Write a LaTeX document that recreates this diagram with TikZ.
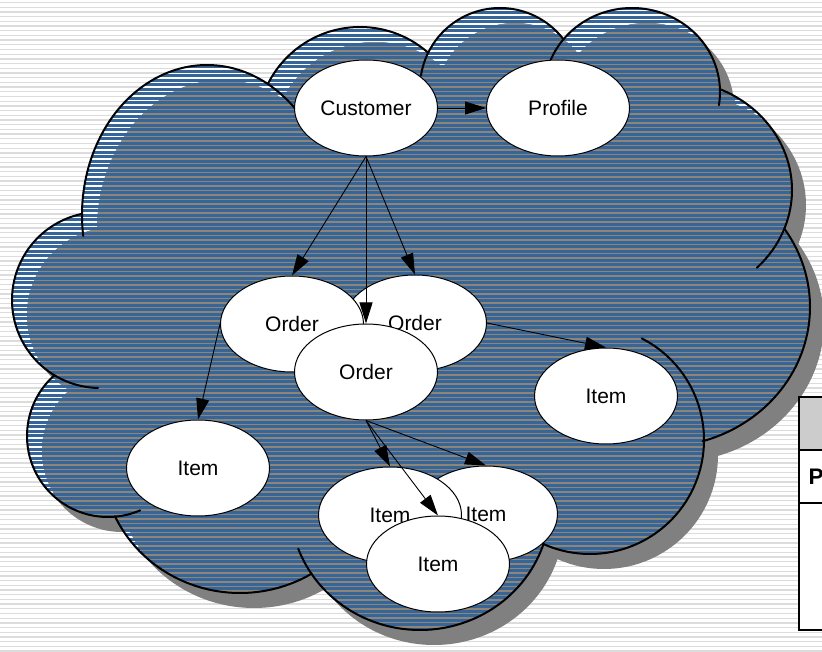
\documentclass[tikz,border=0pt]{standalone}
\usepackage{fontspec}
\setmainfont{Liberation Sans}
\usetikzlibrary{arrows.meta,shapes.geometric}

\definecolor{cloudblue}{HTML}{36659A}
\definecolor{cloudline}{HTML}{8F8576}
\definecolor{shadowgray}{HTML}{808080}
\definecolor{paperline}{HTML}{DCDCDC}
\definecolor{headgray}{HTML}{CCCCCC}

\tikzset{
  % the filled body of the cloud: its lobes plus two inner fillers
  cloudunion/.style={insert path={
    (207,215) ellipse [x radius=125pt, y radius=150pt]
    (360,130) circle [radius=103pt]
    (500,88)  circle [radius=80pt]
    (632,92)  ellipse [x radius=88pt, y radius=84pt]
    (672,190) ellipse [x radius=120pt, y radius=110pt]
    (660,307) ellipse [x radius=150pt, y radius=140pt]
    (590,440) circle [radius=114pt]
    (420,505) ellipse [x radius=130pt, y radius=125pt]
    (240,460) ellipse [x radius=138pt, y radius=133pt]
    (108,436) circle [radius=81pt]
    (100,300) circle [radius=88pt]
    (440,290) ellipse [x radius=190pt, y radius=150pt]
    (520,200) circle [radius=80pt]
  }},
  cloudedge/.style={draw=black, line width=2pt, line cap=round},
  bubble/.style={ellipse, draw=black, fill=white, line width=1pt,
    minimum width=143pt, minimum height=96pt, inner sep=0pt,
    font=\fontsize{21}{25}\selectfont},
  link/.style={draw=black, line width=0.9pt, -{Triangle[length=21pt,width=13pt]}},
  paper/.style={draw=paperline, line width=1.3pt},
  tableline/.style={draw=black, line width=1.6pt},
}

% one lobe of the cloud outline: centre, radii, parameter range
\newcommand\lobearc[6]{%
  \draw[cloudedge] plot[domain=#5:#6, samples=90, variable=\ang]
    ({#1+#3*cos(\ang)},{#2+#4*sin(\ang)});}

\begin{document}
\begin{tikzpicture}[x=1pt, y=-1pt]
\useasboundingbox (0,0) rectangle (822,652);
\clip (0,0) rectangle (822,652);

% ruled paper background
\fill[white] (0,0) rectangle (822,652);
\foreach \yy in {2.5,7.2,...,652} \draw[paper] (0,\yy) -- (822,\yy);

% drop shadow of the cloud
\fill[shadowgray, shift={(14,15)}] [cloudunion];

% striped cloud body, lit along its upper left rim
\begin{scope}
  \clip [cloudunion];
  \fill[cloudblue] (0,0) rectangle (822,652);
  \foreach \yy in {1.5,6,...,652} \draw[white, line width=1.2pt] (0,\yy) -- (822,\yy);
  \begin{scope}
    \clip [shift={(15,15)}, cloudunion];
    \fill[cloudblue] (0,0) rectangle (822,652);
    \foreach \yy in {1.5,6,...,652} \draw[cloudline, line width=1.2pt] (0,\yy) -- (822,\yy);
  \end{scope}
\end{scope}

% cloud outline, lobe by lobe
\lobearc{207}{215}{125}{150}{172}{318}
\lobearc{360}{130}{103}{103}{206.5}{311.5}
\lobearc{500}{88}{80}{80}{189}{322.5}
\lobearc{632}{92}{88}{84}{190}{369}
\lobearc{672}{190}{120}{110}{293.5}{405}
\lobearc{660}{307}{150}{140}{326}{433.5}
\lobearc{590}{440}{114}{114}{297}{474.2}
\lobearc{420}{505}{130}{125}{18}{159.5}
\lobearc{240}{460}{138}{133}{58.7}{155}
\lobearc{108}{436}{81}{81}{66.6}{228.5}
\lobearc{100}{300}{88}{88}{91.3}{258}

% objects
\node[bubble] (cust)   at (366,108) {Customer};
\node[bubble] (prof)   at (558,108) {Profile};
\node[bubble] (ordR)   at (415,323) {Order};
\node[bubble] (ordL)   at (292,324) {Order};
\node[bubble] (ordC)   at (366,372) {Order};
\node[bubble] (itemR)  at (606,396) {Item};
\node[bubble] (itemL)  at (198,468) {Item};
\node[bubble] (itemBR) at (486,514) {Item};
\node[bubble] (itemBL) at (390,515) {Item};
\node[bubble] (itemB)  at (438,564) {Item};

% references
\draw[link] (cust.east)  -- (prof.west);
\draw[link] (cust.south) -- (ordL.north);
\draw[link] (cust.south) -- (ordC.north);
\draw[link] (cust.south) -- (ordR.north);
\draw[link] (ordL.west)  -- (itemL.north);
\draw[link] (ordR.east)  -- (itemR.north);
\draw[link] (ordC.south) -- (itemBL.north);
\draw[link] (ordC.south) -- (itemB.north);
\draw[link] (ordC.south) -- (itemBR.north);

% table running off the right edge
\fill[white] (799,397) rectangle (900,630);
\fill[headgray] (799,397) rectangle (900,450);
\draw[tableline] (799,397) rectangle (900,630);
\draw[tableline] (799,450) -- (900,450);
\draw[tableline] (799,503) -- (900,503);
\node[font=\bfseries\fontsize{22.5}{27}\selectfont, anchor=base west, inner sep=0pt]
  (tabP) at (808.5,484) {P};
\end{tikzpicture}
\end{document}
